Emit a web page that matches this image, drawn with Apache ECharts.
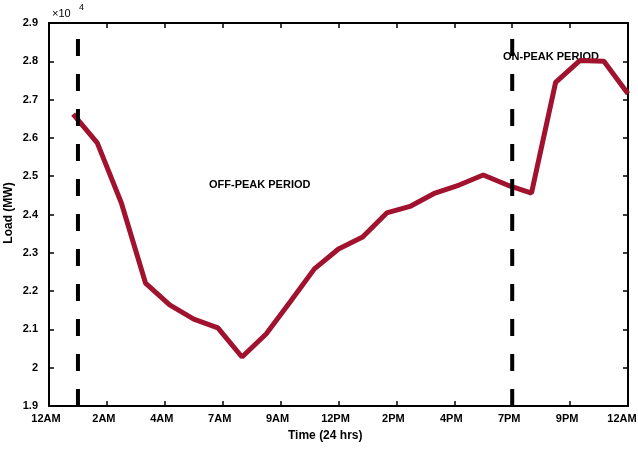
<!DOCTYPE html>
<html lang="en">
<head>
    <meta charset="UTF-8">
    <title>Load</title>
    <script type="text/javascript" src="https://cdn.jsdelivr.net/npm/echarts@6/dist/echarts.min.js"></script>
</head>
<style>
    html, body {
        margin: 0;
        padding: 0;
        background-color: #fff;
    }
    #chart{
        width: 638px;
        height: 452px;
    }
</style>
<body>
<div id="chart"></div>
</body>
<script>
    // hours of the day and load (x 10^4 MW)
    var hours = [1, 2, 3, 4, 5, 6, 7, 8, 9, 10, 11, 12, 13, 14, 15, 16, 17, 18, 19, 20, 21, 22, 23, 24]
    var load = [2.662, 2.587, 2.43, 2.221, 2.164, 2.127, 2.104, 2.028, 2.088, 2.172, 2.258, 2.31,
        2.341, 2.404, 2.422, 2.456, 2.477, 2.503, 2.477, 2.456, 2.745, 2.802, 2.800, 2.715]
    var tickLabels = ['12AM', '2AM', '4AM', '7AM', '9AM', '12PM', '2PM', '4PM', '7PM', '9PM', '12AM']
    // period boundaries (hours)
    var boundaries = [1.2, 19.2]

    var font = '"Liberation Sans", Arial, sans-serif'

    function chart_refresh(){
        var myChart = echarts.init(document.getElementById('chart'));

        var lineData = []
        for (var i = 0; i < hours.length; i++) {
            lineData.push([hours[i], load[i]])
        }

        var dashSeries = boundaries.map(function (b) {
            return {
                type: 'line',
                data: [[b, 1.9], [b, 2.9]],
                symbol: 'none',
                silent: true,
                z: 3,
                lineStyle: {color: '#000', width: 4, type: [17, 18]}
            }
        })

        var axisBase = {
            type: 'value',
            axisLine: {show: true, onZero: false, lineStyle: {color: '#000', width: 2}},
            axisTick: {show: true, inside: true, length: 5, lineStyle: {color: '#000', width: 1.5}},
            splitLine: {show: false}
        }

        var option = {
            animation: false,
            grid: {left: 49, right: 10, top: 23, bottom: 46, containLabel: false, outerBoundsMode: 'none'},
            xAxis: [
                Object.assign({}, axisBase, {
                    min: 0, max: 24, interval: 2.4,
                    position: 'bottom',
                    axisLabel: {
                        color: '#000', fontWeight: 'bold', fontSize: 11, fontFamily: font, margin: 7,
                        padding: [0, 6, 0, 0],
                        formatter: function (v) {
                            var idx = Math.round(v / 2.4)
                            if (idx === tickLabels.length - 1) return '{last|' + tickLabels[idx] + '}'
                            return tickLabels[idx]
                        },
                        rich: {
                            last: {color: '#000', fontWeight: 'bold', fontSize: 11, fontFamily: font, padding: [0, 6, 0, 0]}
                        }
                    }
                }),
                Object.assign({}, axisBase, {
                    min: 0, max: 24, interval: 2.4,
                    position: 'top',
                    axisLabel: {show: false}
                })
            ],
            yAxis: [
                Object.assign({}, axisBase, {
                    min: 1.9, max: 2.9, interval: 0.1,
                    position: 'left',
                    axisLabel: {
                        color: '#000', fontWeight: 'bold', fontSize: 11, fontFamily: font, margin: 11,
                        formatter: function (v) { return String(Math.round(v * 10) / 10) }
                    }
                }),
                Object.assign({}, axisBase, {
                    min: 1.9, max: 2.9, interval: 0.1,
                    position: 'right',
                    axisLabel: {show: false}
                })
            ],
            graphic: [
                {type: 'text', x: 9, y: 213, rotation: Math.PI / 2,
                    style: {text: 'Load (MW)', fill: '#000', font: 'bold 12px ' + font, align: 'center', verticalAlign: 'middle'}},
                {type: 'text', left: 52, top: 8, style: {text: '\u00d710', fill: '#000', font: '11px ' + font}},
                {type: 'text', left: 79, top: 3, style: {text: '4', fill: '#000', font: '9px ' + font}},
                {type: 'text', left: 209, top: 179, style: {text: 'OFF-PEAK PERIOD', fill: '#000', font: 'bold 11px ' + font}},
                {type: 'text', left: 503, top: 51, style: {text: 'ON-PEAK PERIOD', fill: '#000', font: 'bold 11px ' + font}},
                {type: 'text', left: 288, top: 430, style: {text: 'Time (24 hrs)', fill: '#000', font: 'bold 12px ' + font}}
            ],
            series: [
                {
                    type: 'line',
                    data: lineData,
                    symbol: 'none',
                    z: 2,
                    lineStyle: {color: '#A0122E', width: 5}
                }
            ].concat(dashSeries)
        };
        myChart.setOption(option);
    }

    chart_refresh()
</script>
</html>
